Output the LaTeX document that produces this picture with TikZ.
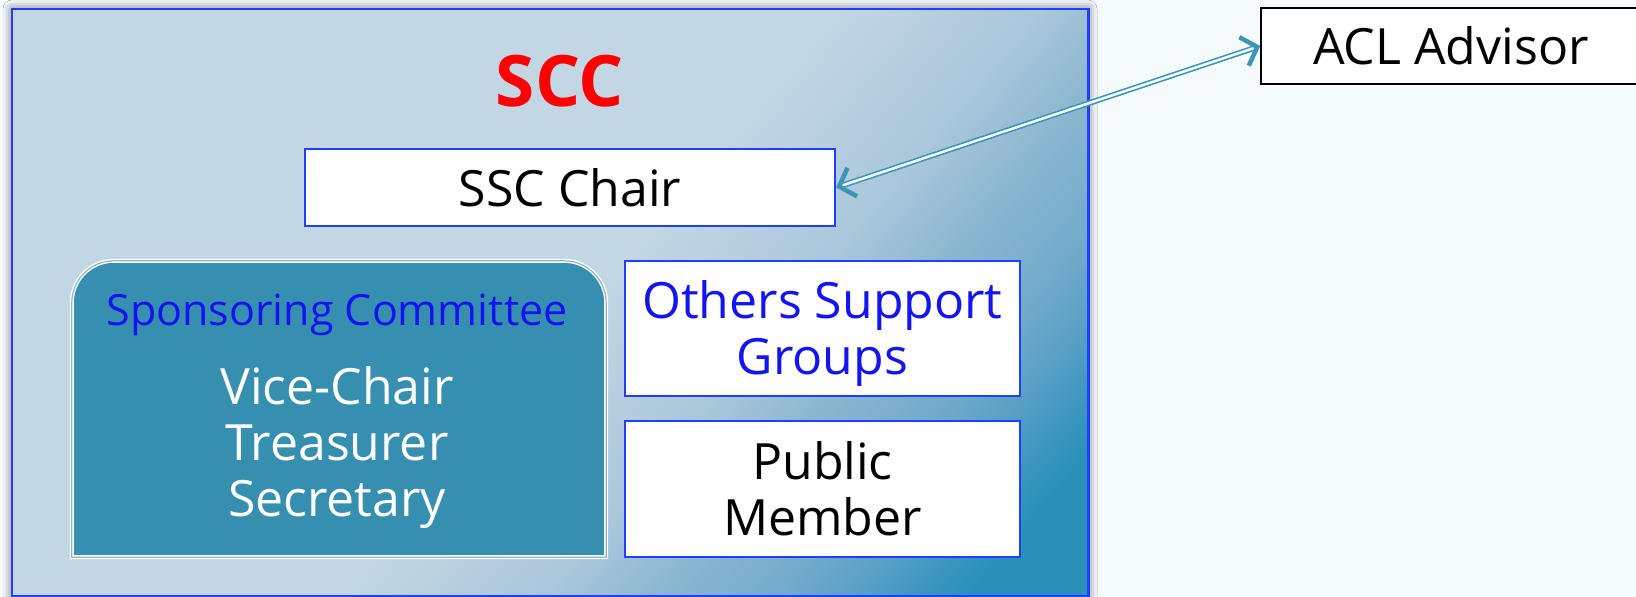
\documentclass[tikz,border=0pt]{standalone}
\usepackage{fontspec}
\setmainfont{Open Sans}
\usetikzlibrary{arrows.meta,shadows.blur}

\definecolor{pagebg}{HTML}{F5FAFC}
\definecolor{paleblue}{HTML}{C2D6E3}
\definecolor{mistblue}{HTML}{AAC7DB}
\definecolor{skyblue}{HTML}{8AB6D0}
\definecolor{airblue}{HTML}{72ABCB}
\definecolor{seablue}{HTML}{58A0C5}
\definecolor{lagoon}{HTML}{3C96BF}
\definecolor{deepteal}{HTML}{2A90BA}
\definecolor{boxblue}{HTML}{1F3FFF}
\definecolor{textblue}{HTML}{1414F0}
\definecolor{sponteal}{HTML}{378FB0}
\definecolor{sponedge}{HTML}{8FB5C8}
\definecolor{linkteal}{HTML}{3A95B6}

\pgfdeclarehorizontalshading{sccfade}{100bp}{color(0bp)=(paleblue); color(51bp)=(paleblue); color(55.5bp)=(mistblue); color(58.2bp)=(skyblue); color(60.8bp)=(airblue); color(62.5bp)=(seablue); color(63.9bp)=(lagoon); color(65bp)=(deepteal); color(100bp)=(deepteal)}

\begin{document}
\begin{tikzpicture}[x=1pt,y=1pt,
  whitebox/.style={draw=boxblue,line width=2.2pt,fill=white,inner sep=0pt,minimum width=395pt,minimum height=135pt},
  bigtext/.style={font=\fontsize{50}{56}\selectfont},
  barb/.tip={Straight Barb[length=14pt,width=30pt,line width=4.5pt]},
  link/.style={draw=linkteal,line width=1.6pt,double=pagebg,double distance=2.5pt,barb-barb}]
\useasboundingbox[fill=pagebg] (0,0) rectangle (1636,-597);

\node[fill=paleblue,inner sep=0pt,minimum width=1076pt,minimum height=587pt,
  blur shadow={shadow xshift=0pt,shadow yshift=0pt,shadow blur radius=9pt,shadow opacity=60}] (panel) at (550,-302.5) {};
\begin{scope}
\clip (panel.south west) rectangle (panel.north east);
\shade[shading=sccfade,shading angle=-40.2] (-298,545.5) rectangle (1398,-1150.5);
\end{scope}
\draw[boxblue,line width=2.6pt] (panel.south west) rectangle (panel.north east);

\node[text=red,font=\bfseries\fontsize{71}{74}\selectfont] (title) at (560,-81) {SCC};

\node[whitebox,bigtext,minimum width=530pt,minimum height=77pt] (chair) at (570,-187.5) {SSC Chair};

\node[inner sep=0pt,minimum width=534pt,minimum height=296pt] (spon) at (339,-409) {};
\draw[draw=white,line width=1.4pt,double=sponedge,double distance=1.2pt,fill=sponteal]
  (spon.south west) -- ([yshift=-42pt]spon.north west) arc[start angle=180,end angle=90,radius=42pt]
  -- ([xshift=-42pt]spon.north east) arc[start angle=90,end angle=0,radius=42pt]
  -- (spon.south east) -- cycle;
\node[anchor=base,text=textblue,font=\fontsize{43}{48}\selectfont] (spontitle) at (337,-325.5) {Sponsoring Committee};
\node[anchor=center,text=white,bigtext,align=center] (roles) at (337,-448) {Vice-Chair\\Treasurer\\Secretary};

\node[whitebox,bigtext,text=textblue,align=center] (others) at (822.5,-328.5) {\rule{0pt}{49pt}Others Support\\Groups};
\node[whitebox,bigtext,align=center,minimum height=136pt] (public) at (822.5,-489) {Public\\Member};

\node[draw=black,line width=1.5pt,fill=white,inner sep=0pt,minimum width=380pt,minimum height=76pt,bigtext] (acl) at (1451,-46) {ACL Advisor};

\draw[link] (chair.east) -- (acl.west);
\end{tikzpicture}
\end{document}
